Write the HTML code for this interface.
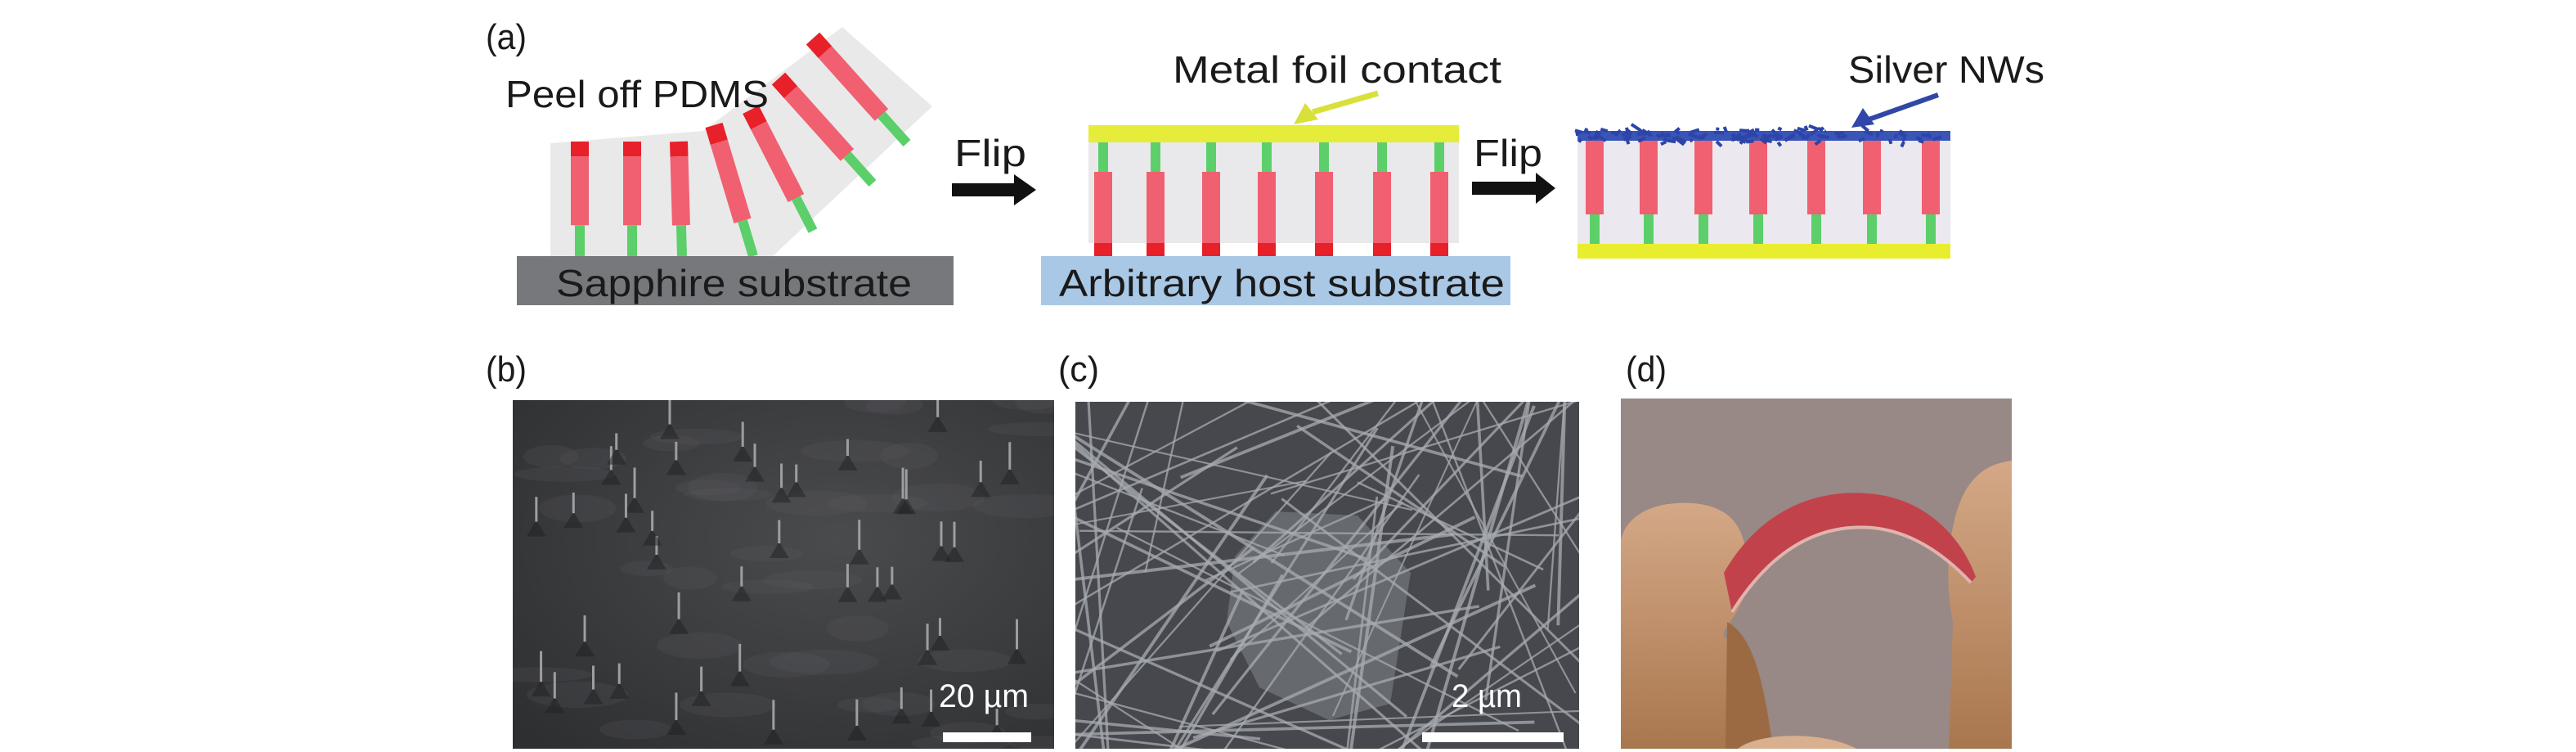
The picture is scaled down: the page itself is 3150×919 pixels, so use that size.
<!DOCTYPE html>
<html><head><meta charset="utf-8"><style>
html,body{margin:0;padding:0;background:#fff;overflow:hidden;width:3150px;height:919px;}
svg{display:block;}
text{font-family:"Liberation Sans Narrow","Liberation Sans",sans-serif;fill:#1a1a1a;}
</style></head><body>
<svg id="s" width="3150" height="919" viewBox="0 0 3150 919" xmlns="http://www.w3.org/2000/svg">
<defs>
<radialGradient id="gb" cx="0.6" cy="0.4" r="0.8"><stop offset="0" stop-color="#4a4b4d"/><stop offset="1" stop-color="#2e2f31"/></radialGradient>
<linearGradient id="fing" x1="0" y1="0" x2="0" y2="1"><stop offset="0" stop-color="#d4a887"/><stop offset="1" stop-color="#a9774e"/></linearGradient>
<clipPath id="cb"><rect x="627" y="489" width="662" height="426"/></clipPath>
<clipPath id="cc"><rect x="1315" y="491" width="616" height="424"/></clipPath>
<clipPath id="cd"><rect x="1982" y="487" width="478" height="428"/></clipPath>
</defs>
<text x="594" y="60" font-size="44" textLength="50" lengthAdjust="spacingAndGlyphs">(a)</text>
<polygon points="673,175 860,160 1030,33 1140,130 945,313 673,313" fill="#e9e9ea"/>
<g id="colsL"></g>
<rect x="632" y="313" width="534" height="60" fill="#76787c"/>
<text x="680" y="362" font-size="46" textLength="435" lengthAdjust="spacingAndGlyphs">Sapphire substrate</text>
<text x="618" y="131" font-size="46" textLength="322" lengthAdjust="spacingAndGlyphs">Peel off PDMS</text>
<text x="1167" y="203" font-size="46" textLength="88" lengthAdjust="spacingAndGlyphs">Flip</text>
<polygon points="1164,224 1240,224 1240,213 1267,232 1240,251 1240,240 1164,240" fill="#111"/>
<rect x="1331" y="173" width="453" height="124" fill="#e9e9ec"/>
<rect x="1331" y="153" width="453" height="21" fill="#e5ec3a"/>
<g id="colsM"></g>
<rect x="1273" y="313" width="574" height="60" fill="#a9c8e6"/>
<text x="1295" y="362" font-size="46" textLength="545" lengthAdjust="spacingAndGlyphs">Arbitrary host substrate</text>
<text x="1434" y="101" font-size="46" textLength="402" lengthAdjust="spacingAndGlyphs">Metal foil contact</text>
<line x1="1685" y1="114" x2="1605" y2="137" stroke="#d8e03a" stroke-width="7"/>
<polygon points="1582,152 1596,126 1612,146" fill="#d8e03a"/>
<text x="1802" y="203" font-size="46" textLength="84" lengthAdjust="spacingAndGlyphs">Flip</text>
<polygon points="1800,222 1878,222 1878,211 1902,230 1878,249 1878,238 1800,238" fill="#111"/>
<rect x="1929" y="160" width="456" height="140" fill="#ebe9ef"/>
<g id="colsR"></g>
<rect x="1929" y="298" width="456" height="18" fill="#e8ee2e"/>
<g id="nw"></g>
<text x="2260" y="101" font-size="46" textLength="240" lengthAdjust="spacingAndGlyphs">Silver NWs</text>
<line x1="2370" y1="116" x2="2285" y2="146" stroke="#3047a8" stroke-width="6"/>
<polygon points="2264,156 2278,132 2292,152" fill="#3047a8"/>
<text x="594" y="466" font-size="44" textLength="50" lengthAdjust="spacingAndGlyphs">(b)</text>
<text x="1294" y="466" font-size="44" textLength="50" lengthAdjust="spacingAndGlyphs">(c)</text>
<text x="1988" y="466" font-size="44" textLength="50" lengthAdjust="spacingAndGlyphs">(d)</text>
<g clip-path="url(#cb)">
<rect x="627" y="489" width="662" height="426" fill="url(#gb)"/>
<g id="pb"></g>
</g>
<text x="1148" y="864" font-size="40" style="fill:#fff" textLength="110" lengthAdjust="spacingAndGlyphs">20 µm</text>
<rect x="1153" y="895" width="108" height="12" fill="#fff"/>
<g clip-path="url(#cc)">
<rect x="1315" y="491" width="616" height="424" fill="#46484d"/>
<polygon points="1510,680 1560,625 1660,630 1725,700 1700,860 1625,880 1540,840 1500,760" fill="#66696e"/>
<g id="pc"></g>
</g>
<text x="1775" y="864" font-size="40" style="fill:#fff" textLength="86" lengthAdjust="spacingAndGlyphs">2 µm</text>
<rect x="1739" y="895" width="173" height="12" fill="#fff"/>
<g clip-path="url(#cd)">
<rect x="1982" y="487" width="478" height="428" fill="#988886"/>
<path d="M1982,660 C1990,625 2030,612 2070,615 C2130,620 2140,660 2135,720 C2125,760 2100,770 2110,780 C2150,790 2160,860 2168,915 L1982,915 Z" fill="url(#fing)"/>
<path d="M2112,760 C2150,780 2160,860 2168,915 L2110,915 Z" fill="#9c6a42"/>
<path d="M2383,915 L2388,760 C2375,700 2385,620 2410,590 C2425,570 2445,565 2460,563 L2460,915 Z" fill="url(#fing)"/>
<path d="M2125,915 C2150,895 2230,893 2270,915 Z" fill="#d8b090"/>
<path d="M2108,700 C2160,610 2240,595 2300,605 C2360,615 2400,660 2416,705 L2410,712 C2380,680 2340,650 2290,645 C2230,640 2170,665 2118,748 Z" fill="#c2424c"/>
<path d="M2118,748 C2170,665 2230,640 2290,645 C2340,650 2380,680 2410,712" fill="none" stroke="#e0b4ac" stroke-width="4"/>
</g>
</svg>
<script>
var NS="http://www.w3.org/2000/svg";
function el(p,t,a){var e=document.createElementNS(NS,t);for(var k in a)e.setAttribute(k,a[k]);p.appendChild(e);return e;}
function seg(g,x1,y1,x2,y2,f1,f2,c,w){el(g,"line",{x1:x1+(x2-x1)*f1,y1:y1+(y2-y1)*f1,x2:x1+(x2-x1)*f2,y2:y1+(y2-y1)*f2,stroke:c,"stroke-width":w});}
var gl=document.getElementById("colsL");
[[709,313,709,173],[773,313,773,173],[834,313,830,173],[921,313,873,153],[994,282,918,134],[1067,224,952,96],[1109,175,994,47]].forEach(function(c){
 seg(gl,c[2],c[3],c[0],c[1],0,0.13,"#e8202a",22);seg(gl,c[2],c[3],c[0],c[1],0.13,0.73,"#f06070",22);seg(gl,c[2],c[3],c[0],c[1],0.73,1,"#5ccf6a",12);});
var gm=document.getElementById("colsM");
[1349,1413,1481,1549,1619,1690,1760].forEach(function(x){
 el(gm,"rect",{x:x-6,y:174,width:12,height:36,fill:"#5ccf6a"});
 el(gm,"rect",{x:x-11,y:210,width:22,height:87,fill:"#f06070"});
 el(gm,"rect",{x:x-11,y:297,width:22,height:16,fill:"#e8202a"});});
var gr=document.getElementById("colsR");
[1950,2016,2083,2150,2221,2289,2361].forEach(function(x){
 el(gr,"rect",{x:x-11,y:172,width:22,height:90,fill:"#f06070"});
 el(gr,"rect",{x:x-6,y:262,width:12,height:40,fill:"#5ccf6a"});});
var seed=7;function r(){seed=(seed*9301+49297)%233280;return seed/233280;}
var nw=document.getElementById("nw");
el(nw,"rect",{x:1929,y:160,width:456,height:12,fill:"#3a55b8"});
for(var i=0;i<120;i++){var x=1929+r()*450,y=158+r()*16;el(nw,"line",{x1:x,y1:y,x2:x+(r()-0.5)*24,y2:y+(r()-0.5)*14,stroke:"#2d44a8","stroke-width":4});}
var pb=document.getElementById("pb");
for(var i=0;i<40;i++){var x=627+r()*662,y=489+r()*426;el(pb,"ellipse",{cx:x,cy:y,rx:30+r()*40,ry:8+r()*10,fill:"#5d5f63",opacity:0.2});}
for(var i=0;i<45;i++){var x=640+r()*640,y=500+r()*400;el(pb,"path",{d:"M"+(x-12)+","+(y+18)+" L"+x+","+(y-2)+" L"+(x+12)+","+(y+18)+"Z",fill:"#1e1f21",opacity:0.5});
 el(pb,"line",{x1:x,y1:y,x2:x,y2:y-20-r()*18,stroke:"#9c9ea2","stroke-width":3});}
var pc=document.getElementById("pc");
for(var i=0;i<75;i++){var a=r()*Math.PI,cx=1330+r()*590,cy=500+r()*410,L=120+r()*300;
 var x1=cx-Math.cos(a)*L,y1=cy-Math.sin(a)*L,x2=cx+Math.cos(a)*L,y2=cy+Math.sin(a)*L;
 el(pc,"line",{x1:x1,y1:y1,x2:x2,y2:y2,stroke:"#a8acb1","stroke-width":2+r()*2,opacity:0.75});}
</script>
</body></html>
